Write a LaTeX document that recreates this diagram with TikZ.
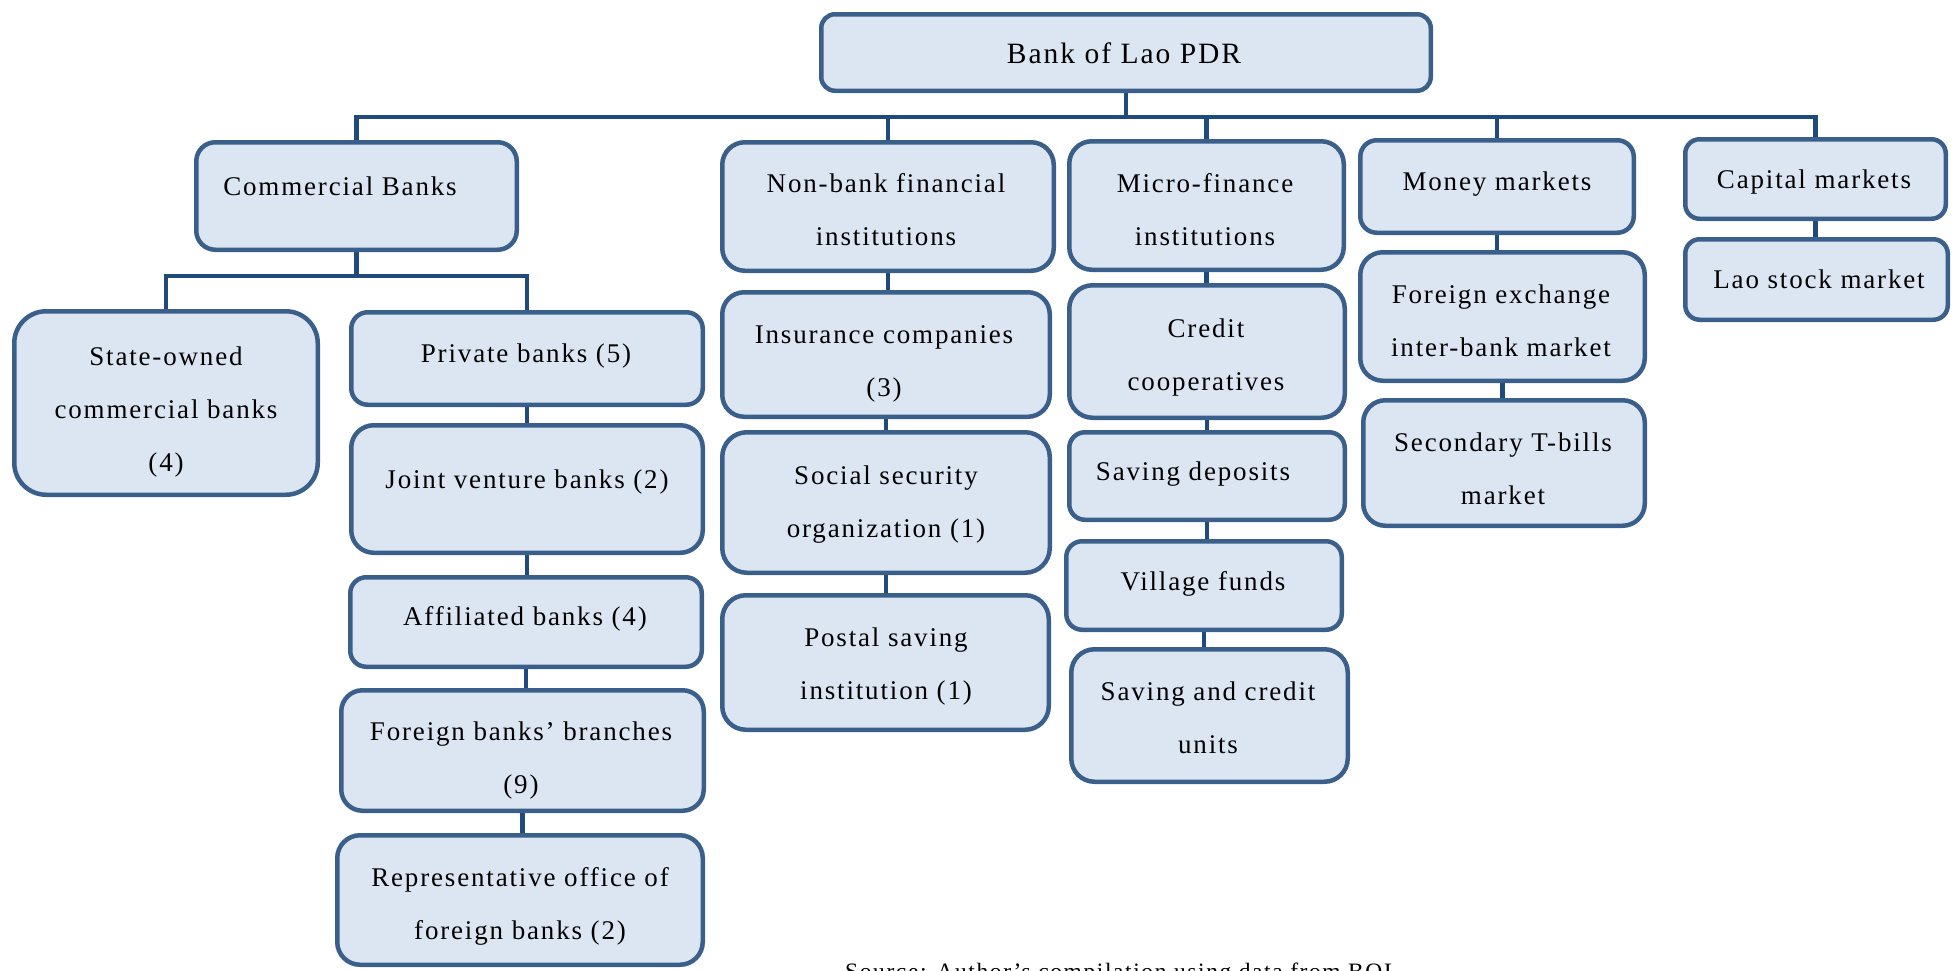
\documentclass[tikz,border=0pt]{standalone}
\usepackage{fontspec}
\setmainfont[LetterSpace=6.8]{Liberation Serif}
\usetikzlibrary{fit,backgrounds}

\definecolor{boxfill}{HTML}{DCE6F2}
\definecolor{boxline}{HTML}{3A5F8B}
\definecolor{linkline}{HTML}{1F4A7E}

% fixed strut so every text line has the same height and depth
\newcommand\ls{\rule[-6pt]{0pt}{25pt}}

% \orgbox{name}{x1}{y1}{x2}{y2}{text x}{text y}{text}
\newcommand\orgbox[8]{%
  \pgfmathsetmacro\orgr{0.17*min(#4-#2,#5-#3)}%
  \node[obox, rounded corners=\orgr pt,
        fit={({#2+2.25},{#3+2.25}) ({#4-2.25},{#5-2.25})}] (#1) {};%
  \node[otext] (#1-t) at (#6,#7) {\ls #8};%
}

\begin{document}
\begin{tikzpicture}[x=1pt,y=-1pt,
  obox/.style={draw=boxline, fill=boxfill, line width=4.5pt, inner sep=0pt},
  otext/.style={font=\fontsize{27}{53}\selectfont, align=center, inner sep=0pt, text=black},
  link/.style={draw=linkline, line width=4.5pt, line join=miter}]
\useasboundingbox (0,0) rectangle (1952,970);

% top level
\orgbox{root}{819}{12}{1433}{93}{1124}{56}{{\fontsize{29.5}{53}\selectfont Bank of Lao PDR}}

% first level
\orgbox{cb}{194}{140}{519}{252}{340}{189}{Commercial Banks}
\orgbox{nb}{720}{140}{1056}{273}{886}{212}{Non-bank financial\\\ls institutions}
\orgbox{mf}{1067}{139}{1346}{272}{1205}{212}{Micro-finance\\\ls institutions}
\orgbox{mm}{1358}{138}{1636}{235}{1497}{184}{Money markets}
\orgbox{cap}{1683}{137}{1948}{221}{1814}{182}{Capital markets}

% commercial banks
\orgbox{so}{12}{309}{320}{497}{166}{412}{State-owned\\\ls commercial banks\\\ls (4)}
\orgbox{pb}{349}{310}{705}{407}{526}{356}{Private banks (5)}
\orgbox{jv}{349}{423}{705}{555}{527}{482}{Joint venture banks (2)}
\orgbox{af}{348}{575}{704}{669}{525}{619}{Affiliated banks (4)}
\orgbox{fb}{339}{688}{706}{813}{521}{760}{Foreign banks’ branches\\\ls (9)}
\orgbox{ro}{335}{833}{705}{967}{520}{906}{Representative office of\\\ls foreign banks (2)}

% non-bank financial institutions
\orgbox{ins}{720}{290}{1052}{419}{884}{363}{Insurance companies\\\ls (3)}
\orgbox{ss}{720}{430}{1052}{575}{886}{504}{Social security\\\ls organization (1)}
\orgbox{ps}{720}{593}{1051}{732}{886}{666}{Postal saving\\\ls institution (1)}

% micro-finance institutions
\orgbox{cc}{1067}{283}{1347}{420}{1206}{357}{Credit\\\ls cooperatives}
\orgbox{sd}{1067}{430}{1347}{522}{1193}{474}{Saving deposits}
\orgbox{vf}{1064}{539}{1344}{632}{1203}{584}{Village funds}
\orgbox{sc}{1069}{647}{1350}{784}{1208}{720}{Saving and credit\\\ls units}

% money markets
\orgbox{fx}{1358}{250}{1647}{383}{1501}{323}{Foreign exchange\\\ls inter-bank market}
\orgbox{tb}{1361}{398}{1647}{528}{1503}{471}{Secondary T-bills\\\ls market}

% capital markets
\orgbox{lsm}{1683}{237}{1950}{322}{1819}{282}{Lao stock market}

% source line
\node[font=\fontsize{23.5}{28}\selectfont, anchor=base west, inner sep=0pt] (src)
  at (845,979) {Source: Author’s compilation using data from BOL};

% connectors, drawn behind the boxes
\begin{scope}[on background layer]
  \coordinate (bar) at (0,117);
  \coordinate (sbar) at (0,276);
  \draw[link] (cb.north) -- (cb.north |- bar) -- (cap.north |- bar) -- (cap.north);
  \draw[link] (root.south) -- (root.south |- bar);
  \foreach \n in {nb,mf,mm}
    \draw[link] (\n.north) -- (\n.north |- bar);
  \draw[link] (so.north) -- (so.north |- sbar) -- (pb.north |- sbar) -- (pb.north);
  \draw[link] (cb.south) -- (cb.south |- sbar);
  \foreach \a/\b in {pb/jv,jv/af,af/fb,fb/ro,nb/ins,ins/ss,ss/ps,
                     mf/cc,cc/sd,sd/vf,vf/sc,mm/fx,fx/tb,cap/lsm}
    \draw[link] (\a.south) -- (\a.south |- \b.north);
\end{scope}
\end{tikzpicture}
\end{document}
